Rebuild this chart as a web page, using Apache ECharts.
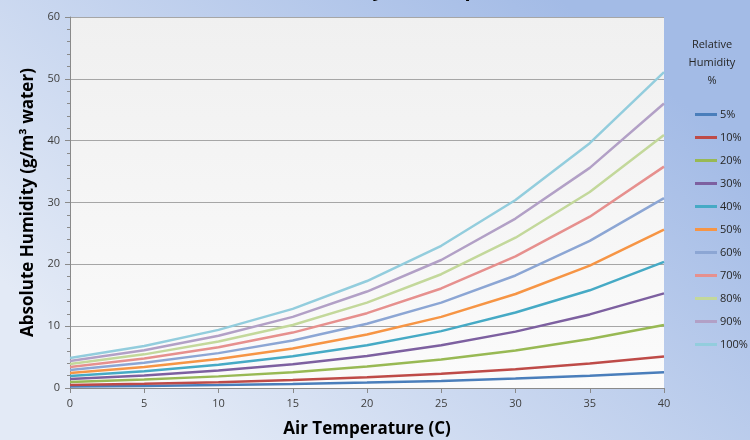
<!DOCTYPE html>
<html>
<head>
<meta charset="utf-8">
<script src="https://cdn.jsdelivr.net/npm/echarts@6/dist/echarts.min.js"></script>
<style>
  html, body { margin: 0; padding: 0; }
  #chart { width: 750px; height: 440px; }
</style>
</head>
<body>
<div id="chart"></div>
<script>
// --- DATA ---
const temps = [0, 5, 10, 15, 20, 25, 30, 35, 40];
const rhNames = ['5%', '10%', '20%', '30%', '40%', '50%', '60%', '70%', '80%', '90%', '100%'];
const rh5   = [0.24, 0.34, 0.47, 0.64, 0.87, 1.15, 1.52, 1.98, 2.56];
const rh10  = [0.49, 0.68, 0.94, 1.28, 1.73, 2.30, 3.04, 3.96, 5.11];
const rh20  = [0.97, 1.36, 1.88, 2.56, 3.46, 4.60, 6.08, 7.92, 10.2];
const rh30  = [1.46, 2.04, 2.82, 3.84, 5.19, 6.90, 9.12, 11.9, 15.3];
const rh40  = [1.94, 2.72, 3.76, 5.12, 6.92, 9.20, 12.2, 15.8, 20.4];
const rh50  = [2.43, 3.40, 4.70, 6.40, 8.65, 11.5, 15.2, 19.8, 25.6];
const rh60  = [2.91, 4.08, 5.64, 7.68, 10.4, 13.8, 18.2, 23.8, 30.7];
const rh70  = [3.40, 4.76, 6.58, 8.96, 12.1, 16.1, 21.3, 27.7, 35.8];
const rh80  = [3.88, 5.44, 7.52, 10.2, 13.8, 18.4, 24.3, 31.7, 40.9];
const rh90  = [4.37, 6.12, 8.46, 11.5, 15.6, 20.7, 27.4, 35.6, 46.0];
const rh100 = [4.85, 6.80, 9.40, 12.8, 17.3, 23.0, 30.4, 39.6, 51.1];
const allSeries = [rh5, rh10, rh20, rh30, rh40, rh50, rh60, rh70, rh80, rh90, rh100];

// Excel 2007 színek
const colors = ['#4a7ebb', '#be4b48', '#98b954', '#7d60a0', '#46aac5', '#f69545',
                '#8ca6d4', '#e6908e', '#c3d89b', '#b2a0c6', '#93cddd'];

const font = '"Open Sans", "DejaVu Sans", sans-serif';

const chart = echarts.init(document.getElementById('chart'));
chart.setOption({
    animation: false,
    backgroundColor: new echarts.graphic.LinearGradient(0.75, 0, 0.25, 1, [
        { offset: 0, color: '#a3bbe6' },
        { offset: 1, color: '#e3eaf6' }
    ]),
    color: colors,
    textStyle: { fontFamily: font },
    title: {
        text: 'Absolute Humidity vs. Temperature',
        left: 'center',
        top: -25,
        textStyle: { fontSize: 20, fontWeight: 'bold', color: '#000', fontFamily: font }
    },
    graphic: [{
        type: 'text',
        x: 712,
        y: 36,
        style: {
            text: 'Relative\nHumidity\n%',
            fill: '#262626',
            font: '11px ' + font,
            align: 'center',
            lineHeight: 18
        }
    }],
    grid: {
        left: 70, right: 86, top: 17, bottom: 52,
        outerBoundsMode: 'none',
        show: true,
        borderWidth: 0,
        backgroundColor: new echarts.graphic.LinearGradient(0, 0, 0, 1, [
            { offset: 0, color: '#f0f0f0' },
            { offset: 1, color: '#fbfbfb' }
        ])
    },
    legend: {
        orient: 'vertical',
        left: 690,
        top: 104,
        data: rhNames,
        icon: 'rect',
        itemWidth: 22,
        itemHeight: 3,
        itemGap: 12,
        textStyle: { fontSize: 11, color: '#262626', padding: [0, 0, 0, -2] }
    },
    xAxis: {
        type: 'value',
        min: 0, max: 40, interval: 5,
        name: 'Air Temperature (C)',
        nameLocation: 'middle',
        nameGap: 33,
        nameTextStyle: { fontSize: 17, fontWeight: 'bold', color: '#000' },
        axisLine: { show: true, lineStyle: { color: '#8a8a8a' } },
        axisTick: { show: true, length: 5, lineStyle: { color: '#8a8a8a' } },
        axisLabel: { fontSize: 11, color: '#404040', margin: 10 },
        splitLine: { show: false }
    },
    yAxis: {
        type: 'value',
        min: 0, max: 60, interval: 10,
        name: 'Absolute Humidity (g/m³ water)',
        nameLocation: 'middle',
        nameGap: 31,
        nameTextStyle: { fontSize: 17, fontWeight: 'bold', color: '#000' },
        axisLine: { show: true, lineStyle: { color: '#8a8a8a' } },
        axisTick: { show: true, length: 5, lineStyle: { color: '#8a8a8a' } },
        minorTick: { show: true, splitNumber: 5, length: 3, lineStyle: { color: '#8a8a8a' } },
        axisLabel: { fontSize: 11, color: '#404040', margin: 10 },
        splitLine: { show: true, lineStyle: { color: '#a6a6a6', width: 1 } }
    },
    series: allSeries.map((vals, i) => ({
        name: rhNames[i],
        type: 'line',
        data: vals.map((v, j) => [temps[j], v]),
        showSymbol: false,
        lineStyle: { width: 2.5 },
        z: 2 + i
    }))
});
</script>
</body>
</html>
